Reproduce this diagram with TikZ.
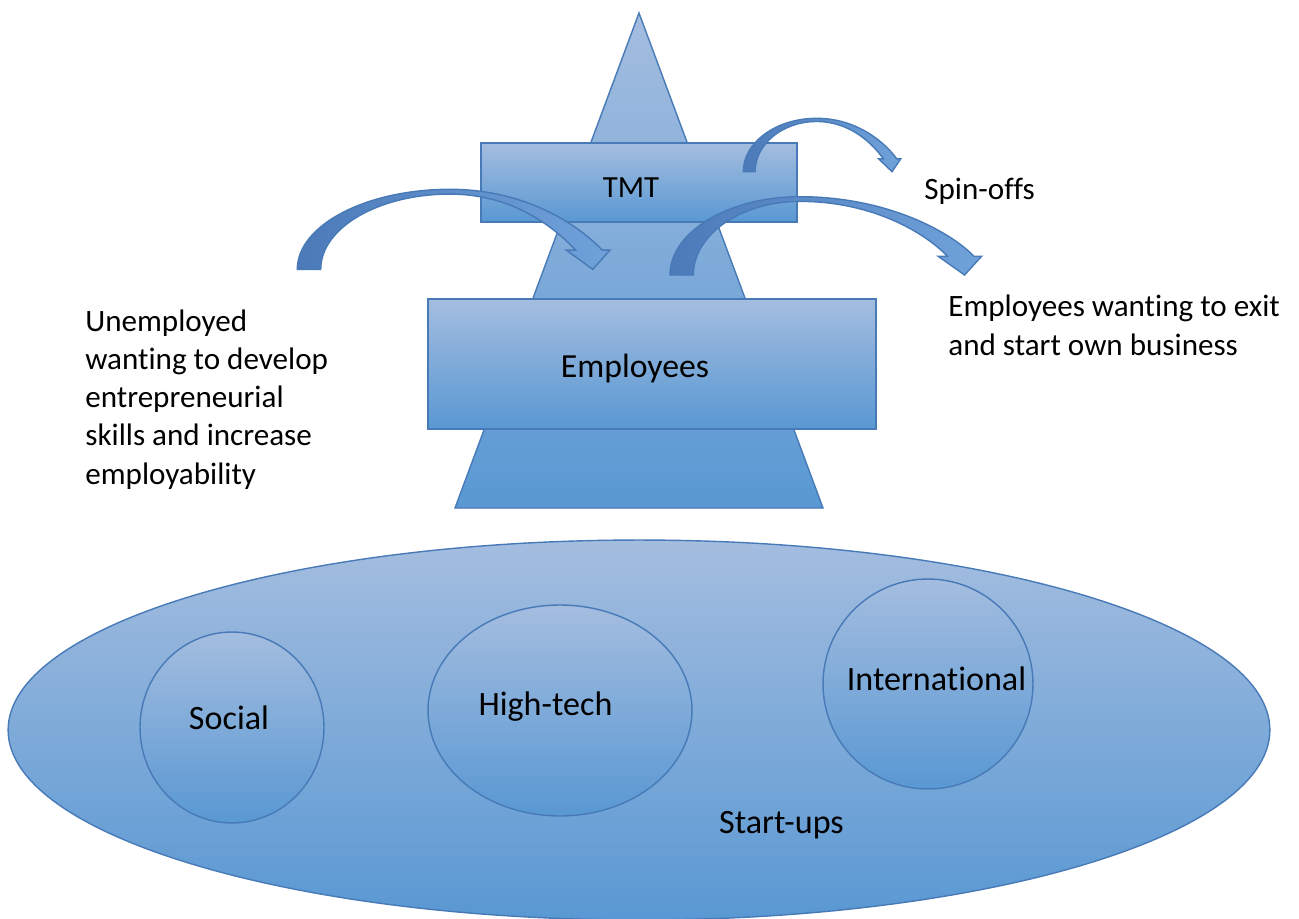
\documentclass[tikz,border=0pt]{standalone}
\usepackage{fontspec}
\setmainfont{Carlito}[Ligatures=NoCommon]
\usepackage{tikz}
\usetikzlibrary{shapes.geometric,positioning}
\definecolor{shapetop}{RGB}{164,189,223}
\definecolor{shapebottom}{RGB}{89,152,211}
\definecolor{shapeline}{RGB}{72,122,184}
\definecolor{arrowdark}{RGB}{76,122,185}
\definecolor{arrowlight}{RGB}{112,162,218}
\tikzset{
  blueshape/.style={draw=shapeline, line width=0.8pt, top color=shapetop, bottom color=shapebottom, inner sep=0pt},
  shapelabel/.style={font=\fontsize{19.4}{23}\selectfont, inner sep=0pt},
  sidetext/.style={font=\fontsize{17.7}{21.7}\selectfont, align=left, inner sep=0pt, anchor=base west},
}
\newcommand{\bentarrow}[5]{
  % curved block arrow: tail at (#1,#2), width #3, height #4, crest at #5
  \begin{scope}[shift={(#1,#2)},xscale=#3,yscale=-#4]
    \draw[draw=shapeline, line width=0.8pt, left color=arrowdark, right color=arrowlight]
      (0,0) .. controls (0,0.55) and ({0.45*#5},1) .. (#5,1)
      .. controls ({#5+0.5*(0.975-#5)},1) and (0.9,0.55) .. (0.975,0.24)
      -- (1,0.24) -- (0.945,0) -- (0.86,0.24) -- (0.89,0.24)
      .. controls (0.82,0.53) and ({#5+0.5*(0.89-#5)},0.94) .. (#5,0.94)
      .. controls ({#5-0.55*(#5-0.075)},0.94) and (0.075,0.52) .. (0.075,0) -- cycle;
  \end{scope}
}

\begin{document}
\begin{tikzpicture}[x=0.02cm,y=-0.02cm]
  \useasboundingbox (0,0) rectangle (1299,919);
  % start-ups
  \node[blueshape, ellipse, minimum width=25.24cm, minimum height=7.6cm] (startups) at (639,730) {};
  \node[blueshape, ellipse, minimum width=3.68cm, minimum height=3.82cm] (social) at (232,727.5) {};
  \node[blueshape, ellipse, minimum width=5.28cm, minimum height=4.22cm] (hightech) at (560,710.5) {};
  \node[blueshape, ellipse, minimum width=4.2cm, minimum height=4.2cm] (intl) at (928,684) {};
  \node[shapelabel, anchor=base] (socialtext) at (229,729) {Social};
  \node[shapelabel, anchor=base] (hightechtext) at (545.5,715) {High-tech};
  \node[shapelabel, anchor=base] (intltext) at (936.5,690) {International};
  \node[shapelabel, anchor=base] (startupstext) at (781.5,833) {Start-ups};
  % firm
  \draw[blueshape] (639,13) -- (823,508) -- (455,508) -- cycle;
  \node[blueshape, rectangle, minimum width=6.32cm, minimum height=1.58cm] (tmt) at (639,182.5) {};
  \node[blueshape, rectangle, minimum width=8.96cm, minimum height=2.6cm] (employees) at (652,364) {};
  \node[font=\fontsize{17.5}{21}\selectfont, inner sep=0pt, anchor=base] (tmttext) at (631,197) {TMT};
  \node[font=\fontsize{19.2}{23}\selectfont, inner sep=0pt, anchor=base] (employeestext) at (635,377) {Employees};
  % flows
  \bentarrow{297.3}{269.3}{312.7}{80}{0.488}
  \bentarrow{743.3}{171.7}{157.4}{53.4}{0.466}
  \bentarrow{670}{275}{311.7}{78.3}{0.417}
  \node[sidetext] (spinoffs) at (924,199) {Spin-offs};
  \node[sidetext] (exiting) at (948,355) {Employees wanting to exit\\and start own business};
  \node[sidetext] (unemployed) at (85,484) {Unemployed\\wanting to develop\\entrepreneurial\\skills and increase\\employability};
\end{tikzpicture}
\end{document}
